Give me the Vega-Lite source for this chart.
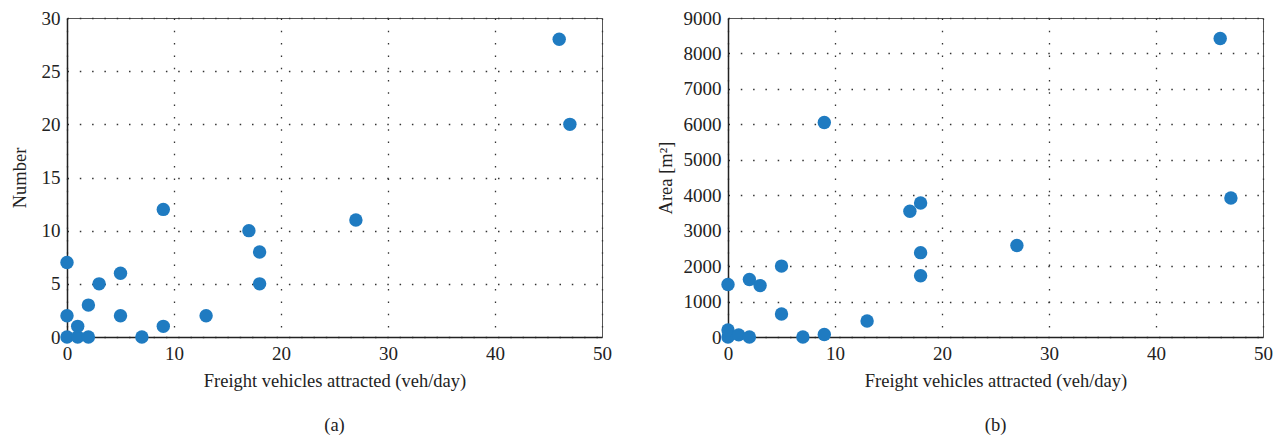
{
  "$schema": "https://vega.github.io/schema/vega-lite/v6.json",
  "background": "white",
  "padding": {"left": 9, "top": 8, "right": 20, "bottom": 5},
  "config": {
    "font": "Liberation Serif",
    "view": {"stroke": "#555", "strokeWidth": 1},
    "axis": {
      "labelFont": "Liberation Serif",
      "titleFont": "Liberation Serif",
      "labelFontSize": 19,
      "titleFontSize": 18.5,
      "labelColor": "#222",
      "titleColor": "#222",
      "titleFontWeight": "normal",
      "ticks": false,
      "domainColor": "#222",
      "domainWidth": 1.5,
      "grid": true,
      "gridColor": "#333",
      "gridDash": [1.5, 10.8],
      "gridWidth": 1.3,
      "labelPadding": 7,
      "labelFlush": false,
      "labelOverlap": false
    },
    "title": {"font": "Liberation Serif", "fontSize": 18.5, "fontWeight": "normal", "color": "#222"}
  },
  "datasets": {
    "num": [
      {"veh": 0, "number": 0}, {"veh": 0, "number": 2}, {"veh": 0, "number": 7},
      {"veh": 1, "number": 0}, {"veh": 1, "number": 1}, {"veh": 2, "number": 0},
      {"veh": 2, "number": 3}, {"veh": 3, "number": 5}, {"veh": 5, "number": 6},
      {"veh": 5, "number": 2}, {"veh": 7, "number": 0}, {"veh": 9, "number": 12},
      {"veh": 9, "number": 1}, {"veh": 13, "number": 2}, {"veh": 17, "number": 10},
      {"veh": 18, "number": 8}, {"veh": 18, "number": 5}, {"veh": 27, "number": 11},
      {"veh": 46, "number": 28}, {"veh": 47, "number": 20}
    ],
    "area": [
      {"veh": 0, "area": 0}, {"veh": 0, "area": 200}, {"veh": 0, "area": 1480},
      {"veh": 1, "area": 60}, {"veh": 2, "area": 0}, {"veh": 2, "area": 1620},
      {"veh": 3, "area": 1450}, {"veh": 5, "area": 2000}, {"veh": 5, "area": 650},
      {"veh": 7, "area": 0}, {"veh": 9, "area": 6050}, {"veh": 9, "area": 70},
      {"veh": 13, "area": 450}, {"veh": 17, "area": 3550}, {"veh": 18, "area": 3780},
      {"veh": 18, "area": 2380}, {"veh": 18, "area": 1730}, {"veh": 27, "area": 2580},
      {"veh": 46, "area": 8420}, {"veh": 47, "area": 3920}
    ]
  },
  "spacing": 43,
  "hconcat": [
    {
      "width": 535,
      "height": 319,
      "title": {"text": "(a)", "orient": "bottom", "offset": 26},
      "data": {"name": "num"},
      "mark": {"type": "circle", "size": 180, "color": "#1f7bc1", "opacity": 1},
      "encoding": {
        "x": {"field": "veh", "type": "quantitative", "scale": {"domain": [0, 50], "nice": false},
              "axis": {"title": "Freight vehicles attracted (veh/day)", "values": [0, 10, 20, 30, 40, 50], "titlePadding": 8}},
        "y": {"field": "number", "type": "quantitative", "scale": {"domain": [0, 30], "nice": false},
              "axis": {"title": "Number", "values": [0, 5, 10, 15, 20, 25, 30], "titlePadding": 12}}
      }
    },
    {
      "width": 535,
      "height": 319,
      "title": {"text": "(b)", "orient": "bottom", "offset": 26},
      "data": {"name": "area"},
      "mark": {"type": "circle", "size": 180, "color": "#1f7bc1", "opacity": 1},
      "encoding": {
        "x": {"field": "veh", "type": "quantitative", "scale": {"domain": [0, 50], "nice": false},
              "axis": {"title": "Freight vehicles attracted (veh/day)", "values": [0, 10, 20, 30, 40, 50], "titlePadding": 8}},
        "y": {"field": "area", "type": "quantitative", "scale": {"domain": [0, 9000], "nice": false},
              "axis": {"title": "Area [m²]", "format": "d", "values": [0, 1000, 2000, 3000, 4000, 5000, 6000, 7000, 8000, 9000], "titlePadding": 8}}
      }
    }
  ]
}
